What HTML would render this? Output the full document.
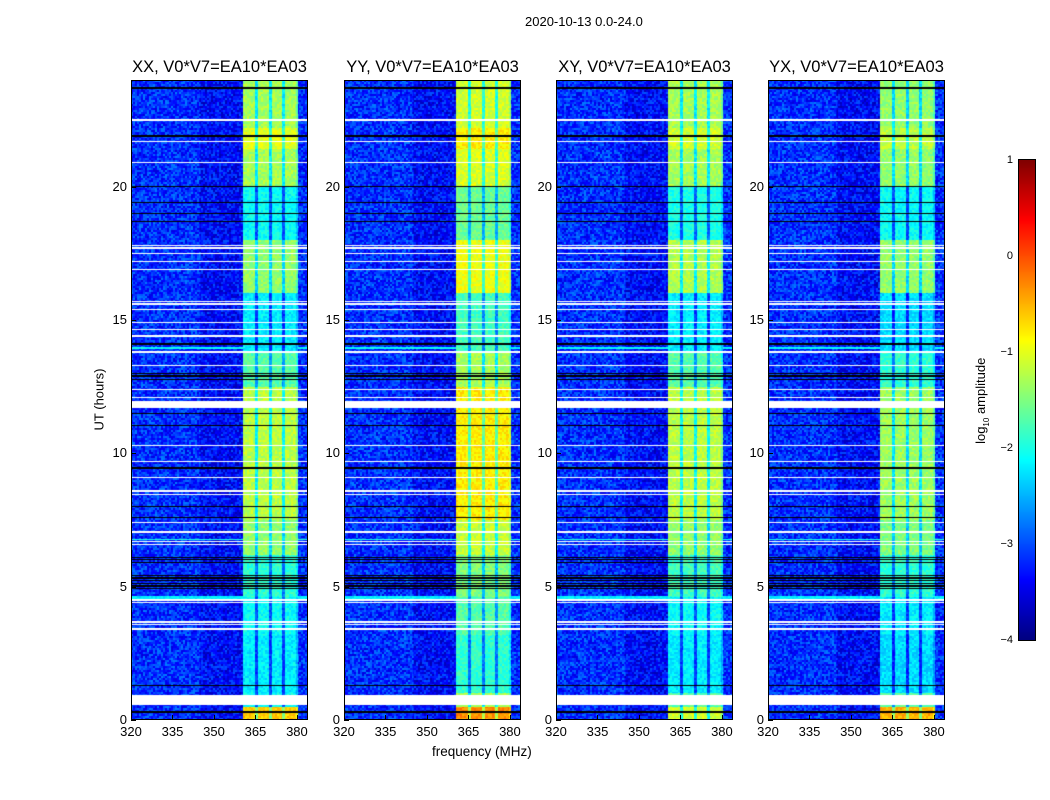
<!DOCTYPE html>
<html><head><meta charset="utf-8"><style>
body{margin:0;background:#fff;width:1050px;height:800px;position:relative;overflow:hidden;font-family:"Liberation Sans",sans-serif;color:#000}
.t{position:absolute;white-space:nowrap}
canvas{position:absolute}
.frame{position:absolute;border:1px solid #000;box-sizing:border-box}
</style></head><body>
<div class="t" style="left:525px;top:14px;font-size:13px">2020-10-13 0.0-24.0</div>
<div class="t" style="left:44px;top:392px;font-size:13px;transform:rotate(-90deg);width:110px;text-align:center">UT (hours)</div>
<div class="t" style="left:432px;top:744px;font-size:13.5px">frequency (MHz)</div>
<div class="t" style="left:922px;top:392px;font-size:13px;transform:rotate(-90deg);width:120px;text-align:center">log<sub style="font-size:8px">10</sub> amplitude</div>
<div id="root"></div>
<script>
const panelNames = ["XX","YY","XY","YX"];
const panelX = [131,344,556,768];
const xTicks = [320,335,350,365,380];
const yTicks = [0,5,10,15,20];
const cbTicks = [1,0,-1,-2,-3,-4];
const cbLabels = ["1","0","\u22121","\u22122","\u22123","\u22124"];
const segHours = [0,0.5,1,3.2,4.6,6.2,7.5,12.5,13.8,16,18,20,21.4,22.2,24];
const levelsXX = [-0.6,-2.1,-2.2,-2.1,-1.9,-1.4,-1.2,-1.7,-2.2,-1.4,-2.1,-1.3,-1.0,-1.3];
const levelsYY = [-0.3,-1.3,-1.9,-1.7,-1.5,-1.15,-0.8,-1.3,-1.8,-0.95,-1.6,-1.05,-0.8,-1.1];
const levelsXY = [-1.1,-1.7,-2.2,-2.1,-1.8,-1.4,-1.2,-1.7,-2.2,-1.25,-2.0,-1.3,-1.1,-1.3];
const levelsYX = [-0.5,-1.7,-2.3,-2.2,-1.9,-1.5,-1.35,-1.9,-2.3,-1.4,-2.1,-1.4,-1.2,-1.4];
const flaggedHours = [[0.55,0.95],[3.38,3.45],[3.55,3.6],[3.65,3.72],[4.38,4.42],[4.48,4.52],[6.55,6.6],[6.68,6.72],[7.03,7.07],[7.38,7.42],[8.44,8.48],[8.56,8.62],[9.08,9.12],[9.68,9.72],[10.28,10.32],[11.7,11.95],[12.08,12.12],[12.38,12.42],[13.28,13.32],[13.75,13.85],[14.38,14.42],[14.63,14.67],[14.88,14.92],[15.38,15.42],[15.58,15.62],[15.68,15.72],[16.88,16.92],[17.18,17.22],[17.48,17.52],[17.68,17.72],[17.78,17.82],[20.88,20.92],[21.68,21.72],[22.45,22.55]];
const blackHours = [[0.28,0.32],[1.28,1.32],[4.9,4.95],[5.0,5.05],[5.1,5.15],[5.2,5.25],[5.3,5.35],[5.4,5.45],[5.88,5.92],[6.0,6.04],[6.08,6.12],[7.58,7.62],[7.98,8.02],[9.43,9.47],[11.03,11.07],[11.48,11.52],[12.75,12.8],[12.88,12.92],[12.98,13.02],[14.08,14.12],[18.68,18.72],[18.98,19.02],[19.38,19.42],[19.98,20.02],[21.88,21.92],[23.68,23.72]];
const cyanRows = [[4.55,4.65,-2.2],[6.74,6.8,-2.0],[13.9,14.0,-2.1]];
const allLevels = [levelsXX,levelsYY,levelsXY,levelsYX];
const fMin=320,fMax=384,hMax=24,W=177,H=640,TOP=80;
const xs=f=>(f-fMin)/(fMax-fMin)*W;
const ys=h=>H-h/hMax*H;
function jet(v){let t=(v+4)/5;t=Math.max(0,Math.min(1,t));
 const c=x=>Math.max(0,Math.min(1,x));
 return [c(1.5-Math.abs(4*t-3)),c(1.5-Math.abs(4*t-2)),c(1.5-Math.abs(4*t-1))].map(q=>Math.round(q*255));}
function tex(i,j){let n=(i*374761393+j*668265263)^(i*j*1274126177);n=(n^(n>>>13))*1274126177;return ((n^(n>>>16))>>>0)/4294967295-0.5;}
const root=document.getElementById('root');
function inR(h,arr){for(const r of arr){if(h>=r[0]&&h<=r[1])return r;}return null;}
allLevels.forEach((lev,p)=>{
 const cv=document.createElement('canvas');
 
 
 cv.width=W;cv.height=H;cv.style.left=panelX[p]+'px';cv.style.top=TOP+'px';
 root.appendChild(cv);
 const ctx=cv.getContext('2d');const img=ctx.createImageData(W,H);
 for(let y=0;y<H;y++){
  const h=(H-y-0.5)/H*hMax;
  let seg=0;for(let k=0;k<segHours.length-1;k++){if(h>=segHours[k]&&h<segHours[k+1])seg=k;}
  const fl=inR(h,flaggedHours),bl=inR(h,blackHours),cy=inR(h,cyanRows);
  for(let x=0;x<W;x++){
   const f=fMin+(x+0.5)/W*(fMax-fMin);
   let rgb;
   if(fl)rgb=[255,255,255];else if(bl)rgb=[0,0,0];
   else{
    const n=tex(Math.floor(x/2)+p*97,Math.floor(y/2));
    let v;
    if(f>=360.5&&f<=380.5){v=lev[seg]+n*0.4;
      for(const d of [365.4,370.3,375.3]){if(Math.abs(f-d)<0.55)v-=0.9;}
      if(f>379.5)v-=0.3;}
    else{v=(f>345&&f<360.5?-3.35:-3.15)+n*0.8;}
    if(cy&&!(f>=360.5&&f<=380.5))v=cy[2]+n*0.3;
    rgb=jet(v);}
   const i=(y*W+x)*4;img.data[i]=rgb[0];img.data[i+1]=rgb[1];img.data[i+2]=rgb[2];img.data[i+3]=255;
  }}
 ctx.putImageData(img,0,0);
 const fr=document.createElement('div');fr.className='frame';
 
 
 fr.style.cssText+=`left:${panelX[p]}px;top:${TOP}px;width:${W}px;height:${H}px`;
 root.appendChild(fr);
 const tt=document.createElement('div');tt.className='t';
 
 
 tt.textContent=panelNames[p]+', V0*V7=EA10*EA03';
 tt.style.cssText+=`left:${panelX[p]-20}px;width:${W+40}px;text-align:center;top:58px;font-size:16.5px`;
 root.appendChild(tt);
 xTicks.forEach(v=>{const l=document.createElement('div');l.className='t';
  
  
  l.textContent=v;l.style.cssText+=`left:${panelX[p]+xs(v)-20}px;width:40px;text-align:center;top:724px;font-size:13px`;root.appendChild(l);
  const m=document.createElement('div');
  m.style.cssText=`position:absolute;left:${panelX[p]+xs(v)}px;top:${TOP+H-5}px;width:1px;height:5px;background:#000`;root.appendChild(m);});
 yTicks.forEach(v=>{const l=document.createElement('div');l.className='t';
  
  
  l.textContent=v;l.style.cssText+=`left:${panelX[p]-44}px;width:40px;text-align:right;top:${TOP+ys(v)-8}px;font-size:13px`;root.appendChild(l);
  const m=document.createElement('div');
  m.style.cssText=`position:absolute;left:${panelX[p]}px;top:${TOP+ys(v)}px;width:5px;height:1px;background:#000`;root.appendChild(m);});
});
const cbX=1019,cbY=160,cbW=16,cbH=480;
const cb=document.createElement('canvas');


cb.width=cbW;cb.height=cbH;cb.style.left=cbX+'px';cb.style.top=cbY+'px';cb.style.outline='1px solid #000';
root.appendChild(cb);
const cx=cb.getContext('2d');
for(let y=0;y<cbH;y++){const v=1-(y+0.5)/cbH*5;const c=jet(v);cx.fillStyle=`rgb(${c})`;cx.fillRect(0,y,cbW,1);}
cbTicks.forEach((v,i)=>{const y=cbY+(1-v)/5*cbH;
 const l=document.createElement('div');l.className='t';
 
 
 l.textContent=cbLabels[i];l.style.cssText+=`left:${cbX-44}px;width:38px;text-align:right;top:${y-6}px;font-size:11px`;root.appendChild(l);});
</script>
</body></html>
